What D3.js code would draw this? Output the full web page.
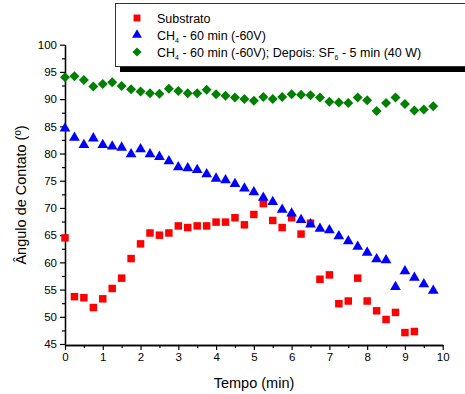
<!DOCTYPE html>
<html><head><meta charset="utf-8">
<script src="https://cdn.jsdelivr.net/npm/d3@7"></script>
<style>body{margin:0;background:#fff}svg{display:block;font-family:"Liberation Sans",Arial,sans-serif}</style>
</head><body><svg id="c" width="465" height="394"></svg>
<script>
const times = d3.range(0, 40).map(i => i * 0.25);
const substrato = [64.5,53.7,53.5,51.7,53.3,55.2,57.1,60.7,63.4,65.4,65.0,65.4,66.7,66.4,66.7,66.7,67.4,67.4,68.2,66.9,68.8,70.8,67.7,66.4,68.2,65.2,67.2,56.9,57.7,52.4,52.9,57.1,52.9,51.1,49.5,50.8,47.1,47.3];
const ch4 = [84.6,82.9,81.6,82.8,81.6,81.3,81.1,79.9,80.8,79.9,79.4,78.6,77.5,77.3,77.0,76.2,75.4,75.1,74.4,73.6,72.9,71.9,71.1,69.7,69.0,67.8,67.0,66.2,65.9,64.8,63.9,62.9,61.8,60.6,60.4,55.5,58.4,57.2,56.0,54.8];
const ch4sf6 = [94.0,94.2,93.5,92.3,92.8,93.1,92.4,91.8,91.4,91.1,91.0,91.9,91.5,91.1,91.1,91.7,90.9,90.6,90.3,90.0,89.7,90.4,90.0,90.4,90.9,90.8,90.7,90.3,89.5,89.4,89.3,90.3,89.8,87.8,89.3,90.3,89.1,87.9,88.1,88.7];
const xTicks = [0,1,2,3,4,5,6,7,8,9,10];
const yTicks = [45,50,55,60,65,70,75,80,85,90,95,100];

const svg = d3.select("#c");
const x = d3.scaleLinear().domain([0,10]).range([65,442.7]);
const y = d3.scaleLinear().domain([45,100]).range([344,44.7]);

const series = [
  {name:"Substrato", vals:substrato, color:"#ff0000", sym:d3.symbolSquare, size:56, rot:0},
  {name:"CH4a", vals:ch4, color:"#0000ff", sym:d3.symbolTriangle, size:50, rot:0},
  {name:"CH4b", vals:ch4sf6, color:"#008000", sym:d3.symbolSquare, size:50, rot:45}
];

// axes
const xAxis = d3.axisBottom(x).tickValues(xTicks).tickSize(5).tickSizeOuter(0).tickPadding(3).tickFormat(d3.format("d"));
const xMinor = d3.axisBottom(x).tickValues(d3.range(0.5,10,1)).tickSize(3).tickSizeOuter(0).tickFormat("");
const yAxis = d3.axisLeft(y).tickValues(yTicks).tickSize(5).tickSizeOuter(0).tickPadding(3);
const yMinor = d3.axisLeft(y).tickValues(d3.range(47.5,100,5)).tickSize(3).tickSizeOuter(0).tickFormat("");

function styleAxis(g){
  g.selectAll("path.domain").attr("stroke","#000").attr("stroke-width",1.3);
  g.selectAll("line").attr("stroke","#000").attr("stroke-width",1.2);
  g.selectAll("text").attr("font-size",11.5).attr("fill","#000").attr("font-family","'Liberation Sans',Arial,sans-serif");
}
svg.append("g").attr("transform","translate(0,345)").call(xMinor).call(styleAxis);
svg.append("g").attr("transform","translate(0,345)").call(xAxis).call(styleAxis);
svg.append("g").attr("transform","translate(65,0)").call(yMinor).call(styleAxis);
svg.append("g").attr("transform","translate(65,0)").call(yAxis).call(styleAxis);

// titles
svg.append("text").attr("x",254).attr("y",388).attr("text-anchor","middle").attr("font-size",14.5).text("Tempo (min)");
svg.append("text").attr("transform","translate(26,195) rotate(-90)").attr("text-anchor","middle").attr("font-size",14.5).text("Ângulo de Contato (º)");

// data points
series.forEach(s => {
  svg.append("g").selectAll("path").data(s.vals).join("path")
    .attr("transform",(d,i)=>`translate(${x(times[i])},${y(d)}) rotate(${s.rot})`)
    .attr("d", d3.symbol().type(s.sym).size(s.size))
    .attr("fill", s.color);
});

// legend
const lg = svg.append("g");
lg.append("rect").attr("x",120).attr("y",8).attr("width",360).attr("height",64).attr("fill","#000");
lg.append("rect").attr("x",115.5).attr("y",3.5).attr("width",360).attr("height",63).attr("fill","#fff").attr("stroke","#333").attr("stroke-width",1);
const ly = [18, 35, 52];
series.forEach((s,i) => {
  lg.append("path").attr("transform",`translate(137,${ly[i]}) rotate(${s.rot})`).attr("d", d3.symbol().type(s.sym).size(s.size*0.85)).attr("fill", s.color);
});
const tx = 157;
lg.append("text").attr("x",tx).attr("y",ly[0]+4.5).attr("font-size",12.5).text("Substrato");
const t2 = lg.append("text").attr("x",tx).attr("y",ly[1]+4.5).attr("font-size",12.5);
t2.append("tspan").text("CH");
t2.append("tspan").attr("font-size",7).attr("dy",3).text("4");
t2.append("tspan").attr("dy",-3).text(" - 60 min (-60V)");
const t3 = lg.append("text").attr("x",tx).attr("y",ly[2]+4.5).attr("font-size",12.5);
t3.append("tspan").text("CH");
t3.append("tspan").attr("font-size",7).attr("dy",3).text("4");
t3.append("tspan").attr("dy",-3).text(" - 60 min (-60V); Depois: SF");
t3.append("tspan").attr("font-size",7).attr("dy",3).text("6");
t3.append("tspan").attr("dy",-3).text(" - 5 min (40 W)");
</script></body></html>
